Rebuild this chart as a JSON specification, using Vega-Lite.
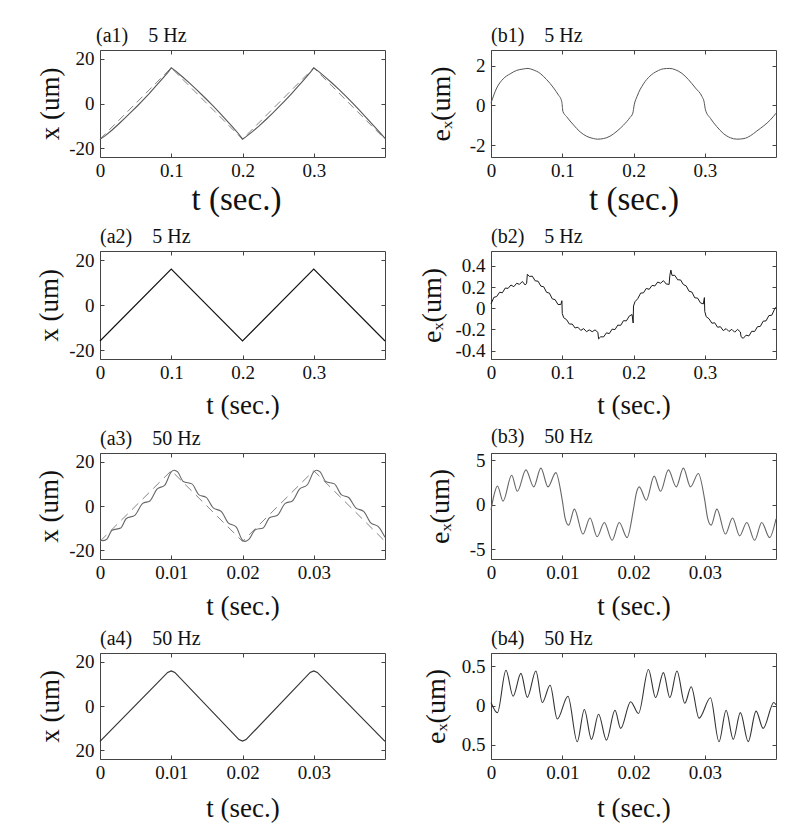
{
  "$schema": "https://vega.github.io/schema/vega-lite/v6.json",
  "background": "white",
  "padding": {"left": 34, "top": 25, "right": 5, "bottom": 5},
  "columns": 2,
  "spacing": {"row": 94, "column": 106},
  "bounds": "flush",
  "datasets": {
    "a1s": [{"t":0,"v":-16.1},{"t":0.008,"v":-14.32},{"t":0.017,"v":-11.9},{"t":0.027,"v":-8.96},{"t":0.036,"v":-6.25},{"t":0.045,"v":-3.44},{"t":0.052,"v":-1.23},{"t":0.059,"v":1.08},{"t":0.069,"v":4.46},{"t":0.078,"v":7.65},{"t":0.088,"v":11.28},{"t":0.095,"v":13.89},{"t":0.1,"v":16},{"t":0.106,"v":14.64},{"t":0.116,"v":11.87},{"t":0.125,"v":9.33},{"t":0.134,"v":6.67},{"t":0.144,"v":3.59},{"t":0.149,"v":2.02},{"t":0.158,"v":-0.89},{"t":0.167,"v":-3.89},{"t":0.177,"v":-7.35},{"t":0.186,"v":-10.53},{"t":0.195,"v":-13.79},{"t":0.2,"v":-16},{"t":0.205,"v":-14.86},{"t":0.214,"v":-12.61},{"t":0.223,"v":-10.12},{"t":0.233,"v":-7.17},{"t":0.242,"v":-4.41},{"t":0.251,"v":-1.55},{"t":0.259,"v":1.08},{"t":0.268,"v":4.14},{"t":0.277,"v":7.33},{"t":0.287,"v":10.96},{"t":0.296,"v":14.26},{"t":0.3,"v":16},{"t":0.308,"v":14.09},{"t":0.317,"v":11.63},{"t":0.326,"v":9.09},{"t":0.336,"v":6.11},{"t":0.345,"v":3.3},{"t":0.355,"v":0.07},{"t":0.364,"v":-2.95},{"t":0.373,"v":-6.07},{"t":0.383,"v":-9.54},{"t":0.392,"v":-12.71},{"t":0.4,"v":-15.61}],
    "a1r": [{"t":0,"v":-16},{"t":0.1,"v":16},{"t":0.2,"v":-16},{"t":0.3,"v":16},{"t":0.4,"v":-16}],
    "b1": [{"t":0,"v":0.12},{"t":0.008,"v":0.88},{"t":0.017,"v":1.34},{"t":0.027,"v":1.6},{"t":0.036,"v":1.77},{"t":0.045,"v":1.84},{"t":0.052,"v":1.87},{"t":0.059,"v":1.8},{"t":0.069,"v":1.62},{"t":0.078,"v":1.31},{"t":0.088,"v":0.88},{"t":0.095,"v":0.51},{"t":0.098,"v":0.34},{"t":0.0995,"v":0.15},{"t":0.101,"v":-0.31},{"t":0.106,"v":-0.56},{"t":0.116,"v":-0.99},{"t":0.125,"v":-1.33},{"t":0.134,"v":-1.55},{"t":0.144,"v":-1.67},{"t":0.149,"v":-1.7},{"t":0.158,"v":-1.67},{"t":0.167,"v":-1.55},{"t":0.177,"v":-1.29},{"t":0.186,"v":-0.99},{"t":0.195,"v":-0.61},{"t":0.199,"v":-0.39},{"t":0.201,"v":0.03},{"t":0.205,"v":0.46},{"t":0.214,"v":1.09},{"t":0.223,"v":1.48},{"t":0.233,"v":1.73},{"t":0.242,"v":1.85},{"t":0.251,"v":1.87},{"t":0.259,"v":1.8},{"t":0.268,"v":1.62},{"t":0.277,"v":1.31},{"t":0.287,"v":0.88},{"t":0.296,"v":0.46},{"t":0.299,"v":0.2},{"t":0.301,"v":-0.22},{"t":0.308,"v":-0.65},{"t":0.317,"v":-1.07},{"t":0.326,"v":-1.41},{"t":0.336,"v":-1.63},{"t":0.345,"v":-1.7},{"t":0.355,"v":-1.67},{"t":0.364,"v":-1.53},{"t":0.373,"v":-1.29},{"t":0.383,"v":-1.02},{"t":0.392,"v":-0.73},{"t":0.4,"v":-0.39}],
    "a2": [{"t":0,"v":-16},{"t":0.1,"v":16},{"t":0.2,"v":-16},{"t":0.3,"v":16},{"t":0.4,"v":-16}],
    "b2": [{"t":0,"v":0.04},{"t":0.004,"v":0.102},{"t":0.008,"v":0.11},{"t":0.012,"v":0.15},{"t":0.016,"v":0.146},{"t":0.02,"v":0.19},{"t":0.024,"v":0.187},{"t":0.028,"v":0.219},{"t":0.032,"v":0.203},{"t":0.036,"v":0.235},{"t":0.04,"v":0.225},{"t":0.044,"v":0.252},{"t":0.048,"v":0.219},{"t":0.05,"v":0.235},{"t":0.051,"v":0.32},{"t":0.054,"v":0.3},{"t":0.058,"v":0.302},{"t":0.062,"v":0.258},{"t":0.066,"v":0.255},{"t":0.07,"v":0.208},{"t":0.074,"v":0.202},{"t":0.078,"v":0.15},{"t":0.082,"v":0.142},{"t":0.086,"v":0.088},{"t":0.09,"v":0.08},{"t":0.094,"v":0.035},{"t":0.098,"v":0.035},{"t":0.0995,"v":0.07},{"t":0.1,"v":-0.05},{"t":0.102,"v":-0.09},{"t":0.106,"v":-0.108},{"t":0.11,"v":-0.15},{"t":0.114,"v":-0.15},{"t":0.118,"v":-0.187},{"t":0.122,"v":-0.18},{"t":0.126,"v":-0.21},{"t":0.13,"v":-0.193},{"t":0.134,"v":-0.222},{"t":0.138,"v":-0.205},{"t":0.142,"v":-0.222},{"t":0.146,"v":-0.205},{"t":0.15,"v":-0.228},{"t":0.151,"v":-0.29},{"t":0.154,"v":-0.27},{"t":0.158,"v":-0.272},{"t":0.162,"v":-0.233},{"t":0.166,"v":-0.24},{"t":0.17,"v":-0.198},{"t":0.174,"v":-0.202},{"t":0.178,"v":-0.16},{"t":0.182,"v":-0.162},{"t":0.186,"v":-0.118},{"t":0.19,"v":-0.12},{"t":0.194,"v":-0.075},{"t":0.198,"v":-0.06},{"t":0.1995,"v":-0.14},{"t":0.2,"v":0.02},{"t":0.202,"v":0.06},{"t":0.206,"v":0.09},{"t":0.21,"v":0.142},{"t":0.214,"v":0.145},{"t":0.218,"v":0.187},{"t":0.222,"v":0.178},{"t":0.226,"v":0.215},{"t":0.23,"v":0.21},{"t":0.234,"v":0.247},{"t":0.238,"v":0.235},{"t":0.242,"v":0.26},{"t":0.246,"v":0.228},{"t":0.25,"v":0.225},{"t":0.251,"v":0.31},{"t":0.2525,"v":0.36},{"t":0.254,"v":0.31},{"t":0.258,"v":0.31},{"t":0.262,"v":0.268},{"t":0.266,"v":0.267},{"t":0.27,"v":0.223},{"t":0.274,"v":0.21},{"t":0.278,"v":0.16},{"t":0.282,"v":0.152},{"t":0.286,"v":0.098},{"t":0.29,"v":0.095},{"t":0.294,"v":0.05},{"t":0.298,"v":0.04},{"t":0.2995,"v":0.1},{"t":0.3,"v":-0.03},{"t":0.302,"v":-0.08},{"t":0.306,"v":-0.1},{"t":0.31,"v":-0.142},{"t":0.314,"v":-0.138},{"t":0.318,"v":-0.18},{"t":0.322,"v":-0.175},{"t":0.326,"v":-0.212},{"t":0.33,"v":-0.193},{"t":0.334,"v":-0.22},{"t":0.338,"v":-0.2},{"t":0.342,"v":-0.227},{"t":0.346,"v":-0.2},{"t":0.35,"v":-0.225},{"t":0.351,"v":-0.27},{"t":0.354,"v":-0.285},{"t":0.358,"v":-0.255},{"t":0.362,"v":-0.262},{"t":0.366,"v":-0.218},{"t":0.37,"v":-0.22},{"t":0.374,"v":-0.175},{"t":0.378,"v":-0.172},{"t":0.382,"v":-0.123},{"t":0.386,"v":-0.12},{"t":0.39,"v":-0.07},{"t":0.394,"v":-0.067},{"t":0.398,"v":-0.01},{"t":0.4,"v":0.01}],
    "a3s": [{"t":0,"v":-15.5},{"t":0.0004,"v":-15.7},{"t":0.0009,"v":-15.2},{"t":0.0017,"v":-10.96},{"t":0.0029,"v":-10.0},{"t":0.0037,"v":-5.66},{"t":0.0049,"v":-4.22},{"t":0.006,"v":1.2},{"t":0.007,"v":2.3},{"t":0.008,"v":7.6},{"t":0.0091,"v":9.5},{"t":0.01,"v":15.5},{"t":0.0104,"v":16.2},{"t":0.0109,"v":15.42},{"t":0.0117,"v":11.06},{"t":0.0129,"v":10.02},{"t":0.0139,"v":5.02},{"t":0.0149,"v":3.92},{"t":0.0159,"v":-0.88},{"t":0.017,"v":-2.4},{"t":0.018,"v":-7.6},{"t":0.0191,"v":-9.42},{"t":0.02,"v":-15.5},{"t":0.0204,"v":-16.0},{"t":0.0209,"v":-15.12},{"t":0.0218,"v":-10.74},{"t":0.0229,"v":-9.92},{"t":0.0238,"v":-5.34},{"t":0.0249,"v":-4.22},{"t":0.026,"v":1.2},{"t":0.027,"v":2.3},{"t":0.028,"v":7.6},{"t":0.0291,"v":9.62},{"t":0.03,"v":15.5},{"t":0.0304,"v":16.2},{"t":0.0309,"v":15.42},{"t":0.0317,"v":11.06},{"t":0.0329,"v":10.02},{"t":0.0339,"v":5.02},{"t":0.0349,"v":3.82},{"t":0.0359,"v":-0.88},{"t":0.037,"v":-2.4},{"t":0.038,"v":-7.6},{"t":0.0391,"v":-9.42},{"t":0.04,"v":-14.2}],
    "a3r": [{"t":0,"v":-16},{"t":0.01,"v":16},{"t":0.02,"v":-16},{"t":0.03,"v":16},{"t":0.04,"v":-16}],
    "b3": [{"t":0,"v":-0.6},{"t":0.0004,"v":1.0},{"t":0.0009,"v":2.1},{"t":0.0017,"v":0.4},{"t":0.0029,"v":3.3},{"t":0.0037,"v":1.5},{"t":0.0049,"v":3.9},{"t":0.006,"v":2.0},{"t":0.007,"v":4.1},{"t":0.008,"v":2.0},{"t":0.0091,"v":3.6},{"t":0.01,"v":0.5},{"t":0.0104,"v":-1.5},{"t":0.0109,"v":-2.3},{"t":0.0117,"v":-0.5},{"t":0.0129,"v":-3.3},{"t":0.0139,"v":-1.5},{"t":0.0149,"v":-3.6},{"t":0.0159,"v":-2.0},{"t":0.017,"v":-4.0},{"t":0.018,"v":-2.0},{"t":0.0191,"v":-3.7},{"t":0.02,"v":-0.5},{"t":0.0204,"v":1.3},{"t":0.0208,"v":2.0},{"t":0.0218,"v":0.5},{"t":0.0229,"v":3.2},{"t":0.0238,"v":1.5},{"t":0.0249,"v":3.9},{"t":0.026,"v":2.0},{"t":0.027,"v":4.1},{"t":0.028,"v":2.0},{"t":0.0291,"v":3.5},{"t":0.03,"v":0.5},{"t":0.0304,"v":-1.5},{"t":0.0309,"v":-2.3},{"t":0.0317,"v":-0.5},{"t":0.0329,"v":-3.3},{"t":0.0339,"v":-1.5},{"t":0.0349,"v":-3.5},{"t":0.0359,"v":-2.0},{"t":0.037,"v":-4.0},{"t":0.038,"v":-2.0},{"t":0.0391,"v":-3.7},{"t":0.04,"v":-1.6}],
    "a4": [{"t":0,"v":-16},{"t":0.0095,"v":15.2},{"t":0.01,"v":15.9},{"t":0.0105,"v":15.2},{"t":0.0195,"v":-15.2},{"t":0.02,"v":-15.9},{"t":0.0205,"v":-15.2},{"t":0.0295,"v":15.2},{"t":0.03,"v":15.9},{"t":0.0305,"v":15.2},{"t":0.04,"v":-16}],
    "b4": [{"t":0,"v":0.04},{"t":0.0009,"v":-0.09},{"t":0.0021,"v":0.45},{"t":0.0031,"v":0.12},{"t":0.0042,"v":0.41},{"t":0.0051,"v":0.105},{"t":0.0063,"v":0.44},{"t":0.0072,"v":0.04},{"t":0.0083,"v":0.26},{"t":0.0093,"v":-0.17},{"t":0.0108,"v":0.12},{"t":0.0121,"v":-0.46},{"t":0.0131,"v":-0.05},{"t":0.0141,"v":-0.43},{"t":0.0151,"v":-0.11},{"t":0.0162,"v":-0.44},{"t":0.0174,"v":-0.06},{"t":0.0182,"v":-0.29},{"t":0.0196,"v":0.05},{"t":0.0207,"v":-0.1},{"t":0.0221,"v":0.46},{"t":0.0231,"v":0.1},{"t":0.0242,"v":0.42},{"t":0.0251,"v":0.1},{"t":0.0261,"v":0.44},{"t":0.0272,"v":0.03},{"t":0.0281,"v":0.24},{"t":0.0292,"v":-0.16},{"t":0.0308,"v":0.1},{"t":0.032,"v":-0.46},{"t":0.033,"v":-0.06},{"t":0.034,"v":-0.43},{"t":0.035,"v":-0.09},{"t":0.0361,"v":-0.46},{"t":0.0372,"v":-0.07},{"t":0.0382,"v":-0.29},{"t":0.0397,"v":0.04},{"t":0.04,"v":0.01}]
  },
  "concat": [
    {
      "title": {"text": "(a1)\u00a0\u00a0\u00a0\u00a05 Hz", "dx": -4},
      "width": 285, "height": 107,
      "layer": [
        {"data": {"name": "a1r"}, "mark": {"type": "line", "color": "#858585", "strokeWidth": 1, "strokeDash": [8, 5]},
         "encoding": {
           "x": {"field": "t", "type": "quantitative", "scale": {"domain": [0, 0.4], "nice": false, "zero": false}, "axis": {"orient": "top", "labels": false, "title": null, "domain": false, "grid": false, "tickSize": -4, "tickColor": "#444444", "values": [0, 0.1, 0.2, 0.3]}},
           "y": {"field": "v", "type": "quantitative", "scale": {"domain": [-24, 24], "nice": false, "zero": false}, "axis": {"orient": "right", "labels": false, "title": null, "domain": false, "grid": false, "tickSize": -4, "tickColor": "#444444", "values": [-20, 0, 20]}}}},
        {"data": {"name": "a1s"}, "mark": {"type": "line", "color": "#555555", "strokeWidth": 1.1},
         "encoding": {
           "x": {"field": "t", "type": "quantitative", "scale": {"domain": [0, 0.4], "nice": false, "zero": false}, "axis": {"orient": "bottom", "domain": false, "grid": false, "tickSize": -4, "tickColor": "#444444", "labelFont": "Liberation Serif", "labelFontSize": 19, "labelColor": "#111111", "labelPadding": 8, "labelFlush": false, "labelOverlap": false, "title": "t (sec.)", "titleFont": "Liberation Serif", "titleFontWeight": "normal", "titleColor": "#111111", "titleFontSize": 33, "titleBaseline": "top", "titleY": 26, "titleX": 136, "values": [0, 0.1, 0.2, 0.3], "labelExpr": "'' + datum.value"}},
           "y": {"field": "v", "type": "quantitative", "scale": {"domain": [-24, 24], "nice": false, "zero": false}, "axis": {"orient": "left", "domain": false, "grid": false, "tickSize": -4, "tickColor": "#444444", "labelFont": "Liberation Serif", "labelFontSize": 19, "labelColor": "#111111", "labelPadding": 10, "labelOverlap": false, "title": "x (um)", "titleFont": "Liberation Serif", "titleFontWeight": "normal", "titleColor": "#111111", "titleFontSize": 27, "titleBaseline": "middle", "titleX": -50, "values": [-20, 0, 20], "labelExpr": "datum.value < 0 ? '-' + (-datum.value) : '' + datum.value"}}}}
      ],
      "resolve": {"axis": {"x": "independent", "y": "independent"}}
    },
    {
      "title": {"text": "(b1)\u00a0\u00a0\u00a0\u00a05 Hz"},
      "width": 285, "height": 107,
      "layer": [
        {"data": {"name": "b1"}, "mark": {"type": "line", "color": "#555555", "strokeWidth": 1, "strokeOpacity": 0},
         "encoding": {
           "x": {"field": "t", "type": "quantitative", "scale": {"domain": [0, 0.4], "nice": false, "zero": false}, "axis": {"orient": "top", "labels": false, "title": null, "domain": false, "grid": false, "tickSize": -4, "tickColor": "#444444", "values": [0, 0.1, 0.2, 0.3]}},
           "y": {"field": "v", "type": "quantitative", "scale": {"domain": [-2.6, 2.8], "nice": false, "zero": false}, "axis": {"orient": "right", "labels": false, "title": null, "domain": false, "grid": false, "tickSize": -4, "tickColor": "#444444", "values": [-2, 0, 2]}}}},
        {"data": {"name": "b1"}, "mark": {"type": "line", "color": "#555555", "strokeWidth": 1, "interpolate": "monotone"},
         "encoding": {
           "x": {"field": "t", "type": "quantitative", "scale": {"domain": [0, 0.4], "nice": false, "zero": false}, "axis": {"orient": "bottom", "domain": false, "grid": false, "tickSize": -4, "tickColor": "#444444", "labelFont": "Liberation Serif", "labelFontSize": 19, "labelColor": "#111111", "labelPadding": 8, "labelFlush": false, "labelOverlap": false, "title": "t (sec.)", "titleFont": "Liberation Serif", "titleFontWeight": "normal", "titleColor": "#111111", "titleFontSize": 33, "titleBaseline": "top", "titleY": 26, "values": [0, 0.1, 0.2, 0.3], "labelExpr": "'' + datum.value"}},
           "y": {"field": "v", "type": "quantitative", "scale": {"domain": [-2.6, 2.8], "nice": false, "zero": false}, "axis": {"orient": "left", "domain": false, "grid": false, "tickSize": -4, "tickColor": "#444444", "labelFont": "Liberation Serif", "labelFontSize": 19, "labelColor": "#111111", "labelPadding": 10, "labelOverlap": false, "title": "eₓ(um)", "titleFont": "Liberation Serif", "titleFontWeight": "normal", "titleColor": "#111111", "titleFontSize": 28, "titleBaseline": "middle", "titleX": -50, "values": [-2, 0, 2], "labelExpr": "datum.value < 0 ? '-' + (-datum.value) : '' + datum.value"}}}}
      ],
      "resolve": {"axis": {"x": "independent", "y": "independent"}}
    },
    {
      "title": {"text": "(a2)\u00a0\u00a0\u00a0\u00a05 Hz"},
      "width": 285, "height": 108,
      "layer": [
        {"data": {"name": "a2"}, "mark": {"type": "line", "color": "#111111", "strokeWidth": 1, "strokeOpacity": 0},
         "encoding": {
           "x": {"field": "t", "type": "quantitative", "scale": {"domain": [0, 0.4], "nice": false, "zero": false}, "axis": {"orient": "top", "labels": false, "title": null, "domain": false, "grid": false, "tickSize": -4, "tickColor": "#444444", "values": [0, 0.1, 0.2, 0.3]}},
           "y": {"field": "v", "type": "quantitative", "scale": {"domain": [-24, 24], "nice": false, "zero": false}, "axis": {"orient": "right", "labels": false, "title": null, "domain": false, "grid": false, "tickSize": -4, "tickColor": "#444444", "values": [-20, 0, 20]}}}},
        {"data": {"name": "a2"}, "mark": {"type": "line", "color": "#111111", "strokeWidth": 1.1},
         "encoding": {
           "x": {"field": "t", "type": "quantitative", "scale": {"domain": [0, 0.4], "nice": false, "zero": false}, "axis": {"orient": "bottom", "domain": false, "grid": false, "tickSize": -4, "tickColor": "#444444", "labelFont": "Liberation Serif", "labelFontSize": 19, "labelColor": "#111111", "labelPadding": 8, "labelFlush": false, "labelOverlap": false, "title": "t (sec.)", "titleFont": "Liberation Serif", "titleFontWeight": "normal", "titleColor": "#111111", "titleFontSize": 27, "titleBaseline": "top", "titleY": 33, "values": [0, 0.1, 0.2, 0.3], "labelExpr": "'' + datum.value"}},
           "y": {"field": "v", "type": "quantitative", "scale": {"domain": [-24, 24], "nice": false, "zero": false}, "axis": {"orient": "left", "domain": false, "grid": false, "tickSize": -4, "tickColor": "#444444", "labelFont": "Liberation Serif", "labelFontSize": 19, "labelColor": "#111111", "labelPadding": 10, "labelOverlap": false, "title": "x (um)", "titleFont": "Liberation Serif", "titleFontWeight": "normal", "titleColor": "#111111", "titleFontSize": 27, "titleBaseline": "middle", "titleX": -51, "values": [-20, 0, 20], "labelExpr": "datum.value < 0 ? '-' + (-datum.value) : '' + datum.value"}}}}
      ],
      "resolve": {"axis": {"x": "independent", "y": "independent"}}
    },
    {
      "title": {"text": "(b2)\u00a0\u00a0\u00a0\u00a05 Hz"},
      "width": 285, "height": 108,
      "layer": [
        {"data": {"name": "b2"}, "mark": {"type": "line", "color": "#111111", "strokeWidth": 1, "strokeOpacity": 0},
         "encoding": {
           "x": {"field": "t", "type": "quantitative", "scale": {"domain": [0, 0.4], "nice": false, "zero": false}, "axis": {"orient": "top", "labels": false, "title": null, "domain": false, "grid": false, "tickSize": -4, "tickColor": "#444444", "values": [0, 0.1, 0.2, 0.3]}},
           "y": {"field": "v", "type": "quantitative", "scale": {"domain": [-0.48, 0.54], "nice": false, "zero": false}, "axis": {"orient": "right", "labels": false, "title": null, "domain": false, "grid": false, "tickSize": -4, "tickColor": "#444444", "values": [-0.4, -0.2, 0, 0.2, 0.4]}}}},
        {"data": {"name": "b2"}, "mark": {"type": "line", "color": "#1a1a1a", "strokeWidth": 1},
         "encoding": {
           "x": {"field": "t", "type": "quantitative", "scale": {"domain": [0, 0.4], "nice": false, "zero": false}, "axis": {"orient": "bottom", "domain": false, "grid": false, "tickSize": -4, "tickColor": "#444444", "labelFont": "Liberation Serif", "labelFontSize": 19, "labelColor": "#111111", "labelPadding": 8, "labelFlush": false, "labelOverlap": false, "title": "t (sec.)", "titleFont": "Liberation Serif", "titleFontWeight": "normal", "titleColor": "#111111", "titleFontSize": 27, "titleBaseline": "top", "titleY": 33, "values": [0, 0.1, 0.2, 0.3], "labelExpr": "'' + datum.value"}},
           "y": {"field": "v", "type": "quantitative", "scale": {"domain": [-0.48, 0.54], "nice": false, "zero": false}, "axis": {"orient": "left", "domain": false, "grid": false, "tickSize": -4, "tickColor": "#444444", "labelFont": "Liberation Serif", "labelFontSize": 19, "labelColor": "#111111", "labelPadding": 10, "labelOverlap": false, "title": "eₓ(um)", "titleFont": "Liberation Serif", "titleFontWeight": "normal", "titleColor": "#111111", "titleFontSize": 28, "titleBaseline": "middle", "titleX": -59, "values": [-0.4, -0.2, 0, 0.2, 0.4], "labelExpr": "datum.value < 0 ? '-' + (-datum.value) : '' + datum.value"}}}}
      ],
      "resolve": {"axis": {"x": "independent", "y": "independent"}}
    },
    {
      "title": {"text": "(a3)\u00a0\u00a0\u00a0\u00a050 Hz"},
      "width": 285, "height": 106,
      "layer": [
        {"data": {"name": "a3r"}, "mark": {"type": "line", "color": "#858585", "strokeWidth": 1, "strokeDash": [9, 6]},
         "encoding": {
           "x": {"field": "t", "type": "quantitative", "scale": {"domain": [0, 0.04], "nice": false, "zero": false}, "axis": {"orient": "top", "labels": false, "title": null, "domain": false, "grid": false, "tickSize": -4, "tickColor": "#444444", "values": [0, 0.01, 0.02, 0.03]}},
           "y": {"field": "v", "type": "quantitative", "scale": {"domain": [-24, 24], "nice": false, "zero": false}, "axis": {"orient": "right", "labels": false, "title": null, "domain": false, "grid": false, "tickSize": -4, "tickColor": "#444444", "values": [-20, 0, 20]}}}},
        {"data": {"name": "a3s"}, "mark": {"type": "line", "color": "#666666", "strokeWidth": 1.1, "interpolate": "monotone"},
         "encoding": {
           "x": {"field": "t", "type": "quantitative", "scale": {"domain": [0, 0.04], "nice": false, "zero": false}, "axis": {"orient": "bottom", "domain": false, "grid": false, "tickSize": -4, "tickColor": "#444444", "labelFont": "Liberation Serif", "labelFontSize": 19, "labelColor": "#111111", "labelPadding": 8, "labelFlush": false, "labelOverlap": false, "title": "t (sec.)", "titleFont": "Liberation Serif", "titleFontWeight": "normal", "titleColor": "#111111", "titleFontSize": 27, "titleBaseline": "top", "titleY": 34, "values": [0, 0.01, 0.02, 0.03], "labelExpr": "'' + datum.value"}},
           "y": {"field": "v", "type": "quantitative", "scale": {"domain": [-24, 24], "nice": false, "zero": false}, "axis": {"orient": "left", "domain": false, "grid": false, "tickSize": -4, "tickColor": "#444444", "labelFont": "Liberation Serif", "labelFontSize": 19, "labelColor": "#111111", "labelPadding": 10, "labelOverlap": false, "title": "x (um)", "titleFont": "Liberation Serif", "titleFontWeight": "normal", "titleColor": "#111111", "titleFontSize": 27, "titleBaseline": "middle", "titleX": -51, "values": [-20, 0, 20], "labelExpr": "datum.value < 0 ? '-' + (-datum.value) : '' + datum.value"}}}}
      ],
      "resolve": {"axis": {"x": "independent", "y": "independent"}}
    },
    {
      "title": {"text": "(b3)\u00a0\u00a0\u00a0\u00a050 Hz"},
      "width": 285, "height": 106,
      "layer": [
        {"data": {"name": "b3"}, "mark": {"type": "line", "color": "#666666", "strokeWidth": 1, "strokeOpacity": 0},
         "encoding": {
           "x": {"field": "t", "type": "quantitative", "scale": {"domain": [0, 0.04], "nice": false, "zero": false}, "axis": {"orient": "top", "labels": false, "title": null, "domain": false, "grid": false, "tickSize": -4, "tickColor": "#444444", "values": [0, 0.01, 0.02, 0.03]}},
           "y": {"field": "v", "type": "quantitative", "scale": {"domain": [-6.1, 5.8], "nice": false, "zero": false}, "axis": {"orient": "right", "labels": false, "title": null, "domain": false, "grid": false, "tickSize": -4, "tickColor": "#444444", "values": [-5, 0, 5]}}}},
        {"data": {"name": "b3"}, "mark": {"type": "line", "color": "#666666", "strokeWidth": 1.1, "interpolate": "monotone"},
         "encoding": {
           "x": {"field": "t", "type": "quantitative", "scale": {"domain": [0, 0.04], "nice": false, "zero": false}, "axis": {"orient": "bottom", "domain": false, "grid": false, "tickSize": -4, "tickColor": "#444444", "labelFont": "Liberation Serif", "labelFontSize": 19, "labelColor": "#111111", "labelPadding": 8, "labelFlush": false, "labelOverlap": false, "title": "t (sec.)", "titleFont": "Liberation Serif", "titleFontWeight": "normal", "titleColor": "#111111", "titleFontSize": 27, "titleBaseline": "top", "titleY": 34, "values": [0, 0.01, 0.02, 0.03], "labelExpr": "'' + datum.value"}},
           "y": {"field": "v", "type": "quantitative", "scale": {"domain": [-6.1, 5.8], "nice": false, "zero": false}, "axis": {"orient": "left", "domain": false, "grid": false, "tickSize": -4, "tickColor": "#444444", "labelFont": "Liberation Serif", "labelFontSize": 19, "labelColor": "#111111", "labelPadding": 10, "labelOverlap": false, "title": "eₓ(um)", "titleFont": "Liberation Serif", "titleFontWeight": "normal", "titleColor": "#111111", "titleFontSize": 28, "titleBaseline": "middle", "titleX": -51, "values": [-5, 0, 5], "labelExpr": "datum.value < 0 ? '-' + (-datum.value) : '' + datum.value"}}}}
      ],
      "resolve": {"axis": {"x": "independent", "y": "independent"}}
    },
    {
      "title": {"text": "(a4)\u00a0\u00a0\u00a0\u00a050 Hz"},
      "width": 285, "height": 106,
      "layer": [
        {"data": {"name": "a4"}, "mark": {"type": "line", "color": "#333333", "strokeWidth": 1, "strokeOpacity": 0},
         "encoding": {
           "x": {"field": "t", "type": "quantitative", "scale": {"domain": [0, 0.04], "nice": false, "zero": false}, "axis": {"orient": "top", "labels": false, "title": null, "domain": false, "grid": false, "tickSize": -4, "tickColor": "#444444", "values": [0, 0.01, 0.02, 0.03]}},
           "y": {"field": "v", "type": "quantitative", "scale": {"domain": [-24, 24], "nice": false, "zero": false}, "axis": {"orient": "right", "labels": false, "title": null, "domain": false, "grid": false, "tickSize": -4, "tickColor": "#444444", "values": [-20, 0, 20]}}}},
        {"data": {"name": "a4"}, "mark": {"type": "line", "color": "#333333", "strokeWidth": 1.2},
         "encoding": {
           "x": {"field": "t", "type": "quantitative", "scale": {"domain": [0, 0.04], "nice": false, "zero": false}, "axis": {"orient": "bottom", "domain": false, "grid": false, "tickSize": -4, "tickColor": "#444444", "labelFont": "Liberation Serif", "labelFontSize": 19, "labelColor": "#111111", "labelPadding": 8, "labelFlush": false, "labelOverlap": false, "title": "t (sec.)", "titleFont": "Liberation Serif", "titleFontWeight": "normal", "titleColor": "#111111", "titleFontSize": 27, "titleBaseline": "top", "titleY": 36, "values": [0, 0.01, 0.02, 0.03], "labelExpr": "'' + datum.value"}},
           "y": {"field": "v", "type": "quantitative", "scale": {"domain": [-24, 24], "nice": false, "zero": false}, "axis": {"orient": "left", "domain": false, "grid": false, "tickSize": -4, "tickColor": "#444444", "labelFont": "Liberation Serif", "labelFontSize": 19, "labelColor": "#111111", "labelPadding": 10, "labelOverlap": false, "title": "x (um)", "titleFont": "Liberation Serif", "titleFontWeight": "normal", "titleColor": "#111111", "titleFontSize": 27, "titleBaseline": "middle", "titleX": -50, "values": [-20, 0, 20], "labelExpr": "'' + abs(datum.value)"}}}}
      ],
      "resolve": {"axis": {"x": "independent", "y": "independent"}}
    },
    {
      "title": {"text": "(b4)\u00a0\u00a0\u00a0\u00a050 Hz"},
      "width": 285, "height": 106,
      "layer": [
        {"data": {"name": "b4"}, "mark": {"type": "line", "color": "#333333", "strokeWidth": 1, "strokeOpacity": 0},
         "encoding": {
           "x": {"field": "t", "type": "quantitative", "scale": {"domain": [0, 0.04], "nice": false, "zero": false}, "axis": {"orient": "top", "labels": false, "title": null, "domain": false, "grid": false, "tickSize": -4, "tickColor": "#444444", "values": [0, 0.01, 0.02, 0.03]}},
           "y": {"field": "v", "type": "quantitative", "scale": {"domain": [-0.68, 0.67], "nice": false, "zero": false}, "axis": {"orient": "right", "labels": false, "title": null, "domain": false, "grid": false, "tickSize": -4, "tickColor": "#444444", "values": [-0.5, 0, 0.5]}}}},
        {"data": {"name": "b4"}, "mark": {"type": "line", "color": "#333333", "strokeWidth": 1.1, "interpolate": "monotone"},
         "encoding": {
           "x": {"field": "t", "type": "quantitative", "scale": {"domain": [0, 0.04], "nice": false, "zero": false}, "axis": {"orient": "bottom", "domain": false, "grid": false, "tickSize": -4, "tickColor": "#444444", "labelFont": "Liberation Serif", "labelFontSize": 19, "labelColor": "#111111", "labelPadding": 8, "labelFlush": false, "labelOverlap": false, "title": "t (sec.)", "titleFont": "Liberation Serif", "titleFontWeight": "normal", "titleColor": "#111111", "titleFontSize": 27, "titleBaseline": "top", "titleY": 36, "values": [0, 0.01, 0.02, 0.03], "labelExpr": "'' + datum.value"}},
           "y": {"field": "v", "type": "quantitative", "scale": {"domain": [-0.68, 0.67], "nice": false, "zero": false}, "axis": {"orient": "left", "domain": false, "grid": false, "tickSize": -4, "tickColor": "#444444", "labelFont": "Liberation Serif", "labelFontSize": 19, "labelColor": "#111111", "labelPadding": 10, "labelOverlap": false, "title": "eₓ(um)", "titleFont": "Liberation Serif", "titleFontWeight": "normal", "titleColor": "#111111", "titleFontSize": 28, "titleBaseline": "middle", "titleX": -55, "values": [-0.5, 0, 0.5], "labelExpr": "'' + abs(datum.value)"}}}}
      ],
      "resolve": {"axis": {"x": "independent", "y": "independent"}}
    }
  ],
  "config": {
    "view": {"stroke": "#444444", "strokeWidth": 1},
    "font": "Liberation Serif",
    "style": {"guide-label": {"font": "Liberation Serif"}, "guide-title": {"font": "Liberation Serif"}},
    "title": {"font": "Liberation Serif", "fontSize": 20, "fontWeight": "normal", "anchor": "start", "frame": "group", "offset": 4, "color": "#111111"}
  }
}
